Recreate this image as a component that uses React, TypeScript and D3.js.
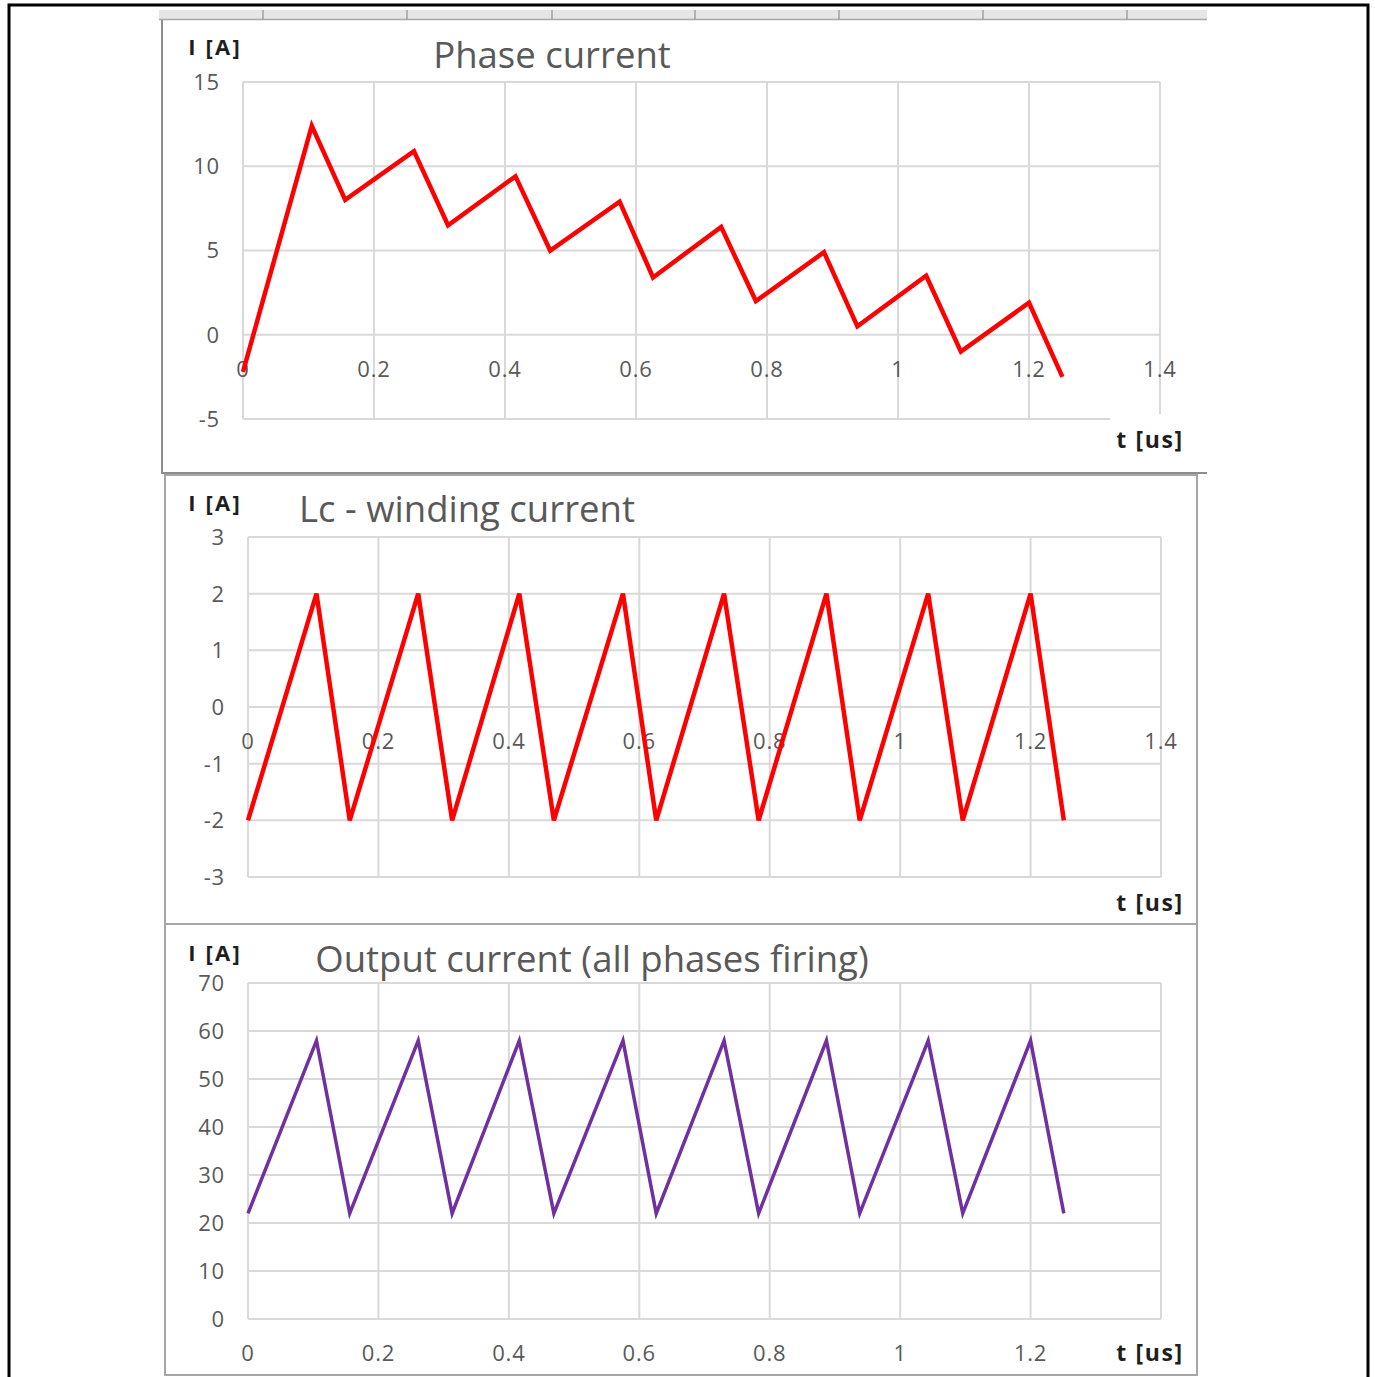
import React from "react";
import * as d3 from "d3";

// Shared time base (microseconds) for the three current traces
const timeUs = [0, 0.105, 0.156, 0.261, 0.313, 0.416, 0.469, 0.575, 0.626, 0.73, 0.783, 0.887, 0.938, 1.043, 1.096, 1.2, 1.251];

// Phase current [A]
const phaseCurrent = [-2.2, 12.4, 8.0, 10.9, 6.5, 9.4, 5.0, 7.9, 3.4, 6.4, 2.0, 4.9, 0.5, 3.5, -1.0, 1.9, -2.5];

// Lc winding current [A]
const windingCurrent = [-2, 2, -2, 2, -2, 2, -2, 2, -2, 2, -2, 2, -2, 2, -2, 2, -2];

// Output current, all phases firing [A]
const outputCurrent = [22, 58, 22, 58, 22, 58, 22, 58, 22, 58, 22, 58, 22, 58, 22, 58, 22];

const xTicks = [0, 0.2, 0.4, 0.6, 0.8, 1, 1.2, 1.4];
const phaseTicks = [-5, 0, 5, 10, 15];
const windingTicks = [-3, -2, -1, 0, 1, 2, 3];
const outputTicks = [0, 10, 20, 30, 40, 50, 60, 70];

const titles = ["Phase current", "Lc - winding current", "Output current (all phases firing)"];
const yAxisTitle = "I [A]";
const xAxisTitle = "t [us]";

const FONT = "'Open Sans', 'DejaVu Sans', sans-serif";
const GRID = "#d9d9d9";
const LABEL = "#595959";

type PanelProps = {
  values: number[];
  yTicks: number[];
  yDomain: [number, number];
  left: number;
  right: number;
  top: number;
  bottom: number;
  color: string;
  lineWidth: number;
  title: string;
  titleX: number;
  titleY: number;
  yTitleY: number;
  xTitleY: number;
  xLabelsAtZero: boolean;
  hideLastXLabel: boolean;
  maskXTitle: boolean;
};

function Panel(p: PanelProps) {
  const x = d3.scaleLinear().domain([0, 1.4]).range([p.left, p.right]);
  const y = d3.scaleLinear().domain(p.yDomain).range([p.bottom, p.top]);
  const line = d3
    .line<number>()
    .x((_, i) => x(timeUs[i]))
    .y((v) => y(v));
  const xLabelY = (p.xLabelsAtZero ? y(0) : p.bottom) + 34;
  const shownX = p.hideLastXLabel ? xTicks.slice(0, -1) : xTicks;

  return (
    <g>
      {/* gridlines */}
      {p.yTicks.map((t) => (
        <line key={"h" + t} x1={p.left} x2={p.right} y1={y(t)} y2={y(t)} stroke={GRID} strokeWidth={2} />
      ))}
      {xTicks.map((t) => (
        <line key={"v" + t} x1={x(t)} x2={x(t)} y1={p.top} y2={p.bottom} stroke={GRID} strokeWidth={2} />
      ))}
      {/* value axis labels */}
      {p.yTicks.map((t) => (
        <text key={"yl" + t} x={p.left - 23} y={y(t)} dy="0.36em" textAnchor="end" fontFamily={FONT} fontSize={22} letterSpacing={0.8} fill={LABEL}>
          {t}
        </text>
      ))}
      {/* time axis labels */}
      {shownX.map((t) => (
        <text key={"xl" + t} x={x(t)} y={xLabelY} dy="0.36em" textAnchor="middle" fontFamily={FONT} fontSize={22} letterSpacing={0.8} fill={LABEL}>
          {t}
        </text>
      ))}
      {/* axis title boxes */}
      {p.maskXTitle && <rect x={1110} y={414} width={86} height={52} fill="#ffffff" />}
      <text x={1150} y={p.xTitleY} dy="0.36em" textAnchor="middle" fontFamily={FONT} fontWeight="bold" fontSize={23} letterSpacing={1.6} fill="#1e1e1e">
        {xAxisTitle}
      </text>
      <text x={215} y={p.yTitleY} dy="0.36em" textAnchor="middle" fontFamily={FONT} fontWeight="bold" fontSize={22} letterSpacing={2.2} fill="#1e1e1e">
        {yAxisTitle}
      </text>
      <text x={p.titleX} y={p.titleY} textAnchor="middle" fontFamily={FONT} fontSize={36.5} fill={LABEL}>
        {p.title}
      </text>
      {/* series */}
      <path d={line(p.values) ?? ""} fill="none" stroke={p.color} strokeWidth={p.lineWidth} strokeLinejoin="miter" />
    </g>
  );
}

export default function App() {
  const stripTicks = [263, 407, 552, 695, 839, 983, 1127];
  return (
    <svg width={1375} height={1377} style={{ position: "absolute", left: 0, top: 0, background: "#fff" }}>
      <rect x={0} y={0} width={1375} height={1377} fill="#ffffff" />
      {/* header strip above the first chart */}
      <rect x={159} y={10} width={1048} height={10} fill="#e6e6e6" />
      <line x1={159} x2={1207} y1={19.5} y2={19.5} stroke="#a6a6a6" strokeWidth={1.5} />
      {stripTicks.map((sx) => (
        <line key={sx} x1={sx} x2={sx} y1={10} y2={20} stroke="#a0a0a0" strokeWidth={1.5} />
      ))}

      {/* chart frames */}
      <polyline points="162,20 162,473 1207,473" fill="none" stroke="#8c8c8c" strokeWidth={2} />
      <rect x={165} y={475} width={1032} height={449} fill="none" stroke="#a6a6a6" strokeWidth={2} />
      <rect x={165} y={924} width={1032} height={451} fill="none" stroke="#a6a6a6" strokeWidth={2} />

      <Panel
        values={phaseCurrent}
        yTicks={phaseTicks}
        yDomain={[-5, 15]}
        left={243}
        right={1160}
        top={82}
        bottom={419}
        color="#ff0000"
        lineWidth={4.5}
        title={titles[0]}
        titleX={552}
        titleY={68}
        yTitleY={47}
        xTitleY={440}
        xLabelsAtZero={true}
        hideLastXLabel={false}
        maskXTitle={true}
      />
      <Panel
        values={windingCurrent}
        yTicks={windingTicks}
        yDomain={[-3, 3]}
        left={248}
        right={1161}
        top={537}
        bottom={877}
        color="#ff0000"
        lineWidth={4.5}
        title={titles[1]}
        titleX={467}
        titleY={522}
        yTitleY={503}
        xTitleY={903}
        xLabelsAtZero={true}
        hideLastXLabel={false}
        maskXTitle={false}
      />
      <Panel
        values={outputCurrent}
        yTicks={outputTicks}
        yDomain={[0, 70]}
        left={248}
        right={1161}
        top={983}
        bottom={1319}
        color="#7030a0"
        lineWidth={3.5}
        title={titles[2]}
        titleX={592}
        titleY={972}
        yTitleY={953}
        xTitleY={1353}
        xLabelsAtZero={false}
        hideLastXLabel={true}
        maskXTitle={false}
      />

      {/* outer frame */}
      <polyline points="9,1377 9,5 1368,5 1368,1377" fill="none" stroke="#000000" strokeWidth={3} />
    </svg>
  );
}
